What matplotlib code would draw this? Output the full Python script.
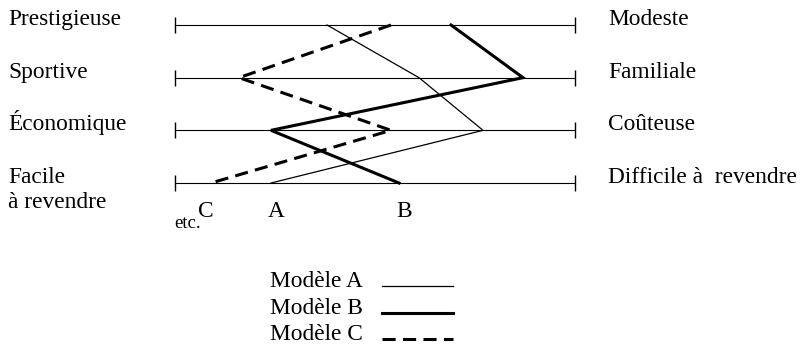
import matplotlib.pyplot as plt
from matplotlib.lines import Line2D

plt.rcParams["font.family"] = ["Liberation Serif", "DejaVu Serif"]

left_labels = ["Prestigieuse", "Sportive", "Économique", "Facile\nà revendre"]
right_labels = ["Modeste", "Familiale", "Coûteuse", "Difficile à  revendre"]

# position on each scale, 0 = left pole, 100 = right pole
model_a = [38, 61, 77, 24]
model_b = [69, 87, 24, 56]
model_c = [54, 16, 54, 9]

model_names = ["Modèle A", "Modèle B", "Modèle C"]
point_labels = ["C", "A", "B"]

W, H = 806, 346
fig = plt.figure(figsize=(W / 100, H / 100), dpi=100)
ax = fig.add_axes([0, 0, 1, 1])
ax.set_axis_off()

# pixel layout: scale from x=175 to x=575, rows from y=25 to y=183
x0, x1 = 175, 575
y0, y3 = 25, 183
sx = (x1 - x0) / 100
sy = (y3 - y0) / 3
ax.set_xlim(-x0 / sx, (W - x0) / sx)
ax.set_ylim((H - y0) / sy, -y0 / sy)

fs = 16.8

for i, (lft, rgt) in enumerate(zip(left_labels, right_labels)):
    ax.plot([0, 100], [i, i], color="black", lw=0.8, marker="|",
            markersize=12, markeredgewidth=1.0, zorder=1)
    for k, part in enumerate(lft.split("\n")):
        ax.text((8 - x0) / sx, i + k * 25 / sy, part, fontsize=fs,
                ha="left", va="baseline")
    ax.text((608 - x0) / sx, i, rgt, fontsize=fs, ha="left", va="baseline")

rows = list(range(len(left_labels)))
styles = [
    dict(color="black", lw=0.9, ls="-"),
    dict(color="black", lw=2.2, ls="-"),
    dict(color="black", lw=2.2, ls=(0, (4.3, 2.4))),
]
for vals, st in zip([model_a, model_b, model_c], styles):
    ax.plot(vals, rows, solid_joinstyle="miter", zorder=3, **st)

# letters under the last scale
facile = {"A": model_a[3], "B": model_b[3], "C": model_c[3]}
shift = {"A": 1.3, "B": 1.3, "C": -1.3}
for lab in point_labels:
    ax.text(facile[lab] + shift[lab], 3 + 34 / sy, lab, fontsize=fs,
            ha="center", va="baseline")
ax.text((188 - x0) / sx, 3 + 45 / sy, "etc.", fontsize=13.5,
        ha="center", va="baseline")

# key: label then a sample of the line, sitting on the text baseline
for k, (name, st) in enumerate(zip(model_names, styles)):
    base = 287 + 26.5 * k
    fig.text(270 / W, 1 - base / H, name, fontsize=fs, ha="left", va="baseline")
    fig.add_artist(Line2D([382 / W, 453 / W], [1 - (base - 1) / H] * 2,
                          transform=fig.transFigure, **st))

fig.savefig("out.png", dpi=100)
